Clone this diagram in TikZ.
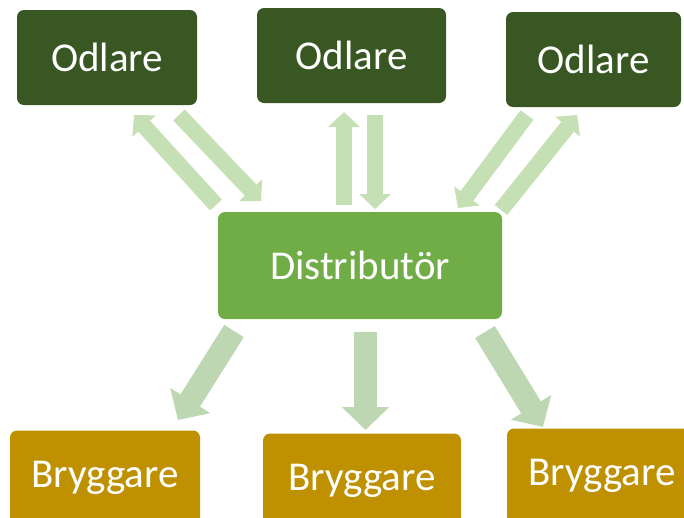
\documentclass[tikz,border=0pt]{standalone}
\usepackage{fontspec}
\setmainfont{Carlito}
\usetikzlibrary{arrows.meta}
\definecolor{odl}{HTML}{385723}
\definecolor{dist}{HTML}{70AD47}
\definecolor{bryg}{HTML}{BF9000}
\definecolor{arrT}{HTML}{C5E0B4}
\definecolor{arrB}{HTML}{BDD7B3}
\begin{document}
\begin{tikzpicture}[x=1pt,y=-1pt,
  box/.style={rounded corners=7pt, text=white, font=\fontsize{41}{45}\selectfont, inner sep=0pt, anchor=center},
  odlbox/.style={box, fill=odl},
  distbox/.style={box, fill=dist},
  brygbox/.style={box, fill=bryg},
  toparr/.style={draw=arrT, line width=16pt, -{Triangle[length=15pt,width=31pt]}},
  botarr/.style={draw=arrB, line width=23pt, -{Triangle[length=23pt,width=46pt]}}
]
\useasboundingbox (0,0) rectangle (684,517);
\clip (0,0) rectangle (684,517);
% boxes
\node[odlbox, minimum width=180pt, minimum height=95pt] (o1) at (107,57.5) {Odlare};
\node[odlbox, minimum width=189pt, minimum height=95pt] (o2) at (351.5,55.5) {Odlare};
\node[odlbox, minimum width=175pt, minimum height=95pt] (o3) at (593.5,59.5) {Odlare};
\node[distbox, minimum width=284pt, minimum height=107pt] (d) at (360,265.5) {Distributör};
\node[brygbox, minimum width=190pt, minimum height=95pt] (b1) at (105,478) {Bryggare};
\node[brygbox, minimum width=198pt, minimum height=95pt] (b2) at (362,481) {Bryggare};
\node[brygbox, minimum width=190pt, minimum height=95pt] (b3) at (602,476) {Bryggare};
% arrow end points
\coordinate (u1s) at (216,205); \coordinate (u1e) at (134,115);
\coordinate (d1s) at (179,115); \coordinate (d1e) at (261,201);
\coordinate (u2s) at (344,205); \coordinate (u2e) at (344,112);
\coordinate (d2s) at (375,115); \coordinate (d2e) at (375,209);
\coordinate (d3s) at (527,115); \coordinate (d3e) at (458,208);
\coordinate (u3s) at (501,210); \coordinate (u3e) at (577,115);
\coordinate (e1s) at (234,331); \coordinate (e1e) at (178,420);
\coordinate (e2s) at (365.5,332); \coordinate (e2e) at (365.5,430);
\coordinate (e3s) at (485,332); \coordinate (e3e) at (543,427);
% arrows
\draw[toparr] (u1s) -- (u1e);
\draw[toparr] (d1s) -- (d1e);
\draw[toparr] (u2s) -- (u2e);
\draw[toparr] (d2s) -- (d2e);
\draw[toparr] (d3s) -- (d3e);
\draw[toparr] (u3s) -- (u3e);
\draw[botarr] (e1s) -- (e1e);
\draw[botarr] (e2s) -- (e2e);
\draw[botarr] (e3s) -- (e3e);
\end{tikzpicture}
\end{document}
